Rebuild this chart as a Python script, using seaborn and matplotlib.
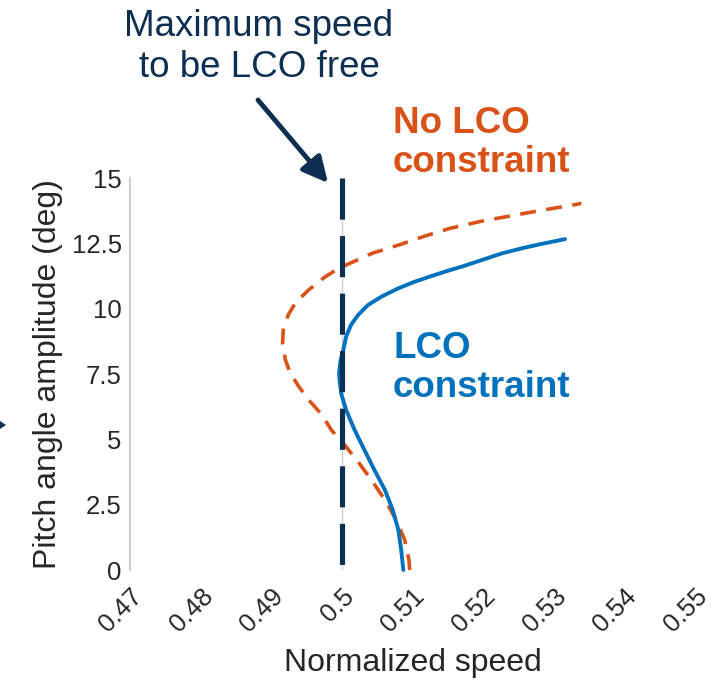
import matplotlib
matplotlib.use("Agg")
import matplotlib.pyplot as plt
from matplotlib.patches import Polygon
import seaborn as sns

# Axis ticks
speed_ticks = [0.47, 0.48, 0.49, 0.50, 0.51, 0.52, 0.53, 0.54, 0.55]
speed_tick_labels = ["0.47", "0.48", "0.49", "0.5", "0.51", "0.52", "0.53", "0.54", "0.55"]
amp_ticks = [0, 2.5, 5, 7.5, 10, 12.5, 15]
amp_tick_labels = ["0", "2.5", "5", "7.5", "10", "12.5", "15"]

# Response with LCO constraint (normalized speed vs pitch amplitude)
lco_amp = [0, 0.77, 1.53, 2.30, 3.06, 3.83, 4.59, 5.36, 6.12, 6.76, 7.20, 7.53,
           8.00, 8.42, 8.93, 9.38, 9.76, 10.14, 10.46, 10.78, 11.03, 11.25, 11.45,
           11.61, 11.86, 12.12, 12.31, 12.48, 12.66]
lco_speed = [0.5087, 0.5084, 0.5080, 0.5072, 0.5061, 0.5046, 0.5032, 0.5018, 0.5006,
             0.4999, 0.4997, 0.4996, 0.4998, 0.5002, 0.5006, 0.5013, 0.5023, 0.5037,
             0.5056, 0.5080, 0.5103, 0.5127, 0.5150, 0.5170, 0.5198, 0.5227, 0.5255,
             0.5283, 0.5316]

# Response without LCO constraint
free_amp = [0, 0.38, 1.15, 1.91, 2.68, 3.44, 4.14, 4.78, 5.36, 5.93, 6.51, 7.02,
            7.53, 8.04, 8.68, 9.18, 9.76, 10.21, 10.72, 11.23, 11.55, 12.12, 12.44,
            12.80, 13.08, 13.35, 13.56, 13.78, 13.97, 14.03]
free_speed = [0.5096, 0.5095, 0.5089, 0.5077, 0.5061, 0.5042, 0.5023, 0.5004, 0.4985,
              0.4972, 0.4953, 0.4939, 0.4927, 0.4920, 0.4916, 0.4917, 0.4924, 0.4934,
              0.4953, 0.4977, 0.4996, 0.5043, 0.5081, 0.5120, 0.5154, 0.5198, 0.5241,
              0.5286, 0.5328, 0.5339]

# Maximum LCO-free speed marker
max_speed = [0.5, 0.5]
max_speed_amp = [15, 0]

BLUE = "#0072BD"
ORANGE = "#D95319"
NAVY = "#0d2f52"
TEXT = "#262626"
AXIS_GRAY = "#c4c4c4"

sns.set_theme(style="white")
plt.rcParams["font.family"] = ["Liberation Sans", "DejaVu Sans"]

W, H = 725, 685
fig = plt.figure(figsize=(W / 100, H / 100), dpi=100)
ax = fig.add_axes([130 / W, 1 - 570 / H, 565 / W, 392 / H])

# thin guide under the dashed marker
ax.axvline(0.5, ymin=0, ymax=1, color="#cfcfcf", lw=1.0, zorder=1)

sns.lineplot(x=lco_speed, y=lco_amp, sort=False, estimator=None, color=BLUE,
             lw=2.8, ax=ax, zorder=3)
ax.lines[-1].set_solid_capstyle("round")
ax.lines[-1].set_solid_joinstyle("round")
ax.lines[-1].set_clip_on(False)

sns.lineplot(x=free_speed, y=free_amp, sort=False, estimator=None, color=ORANGE,
             lw=2.6, ax=ax, zorder=2)
ax.lines[-1].set_dashes((4.4, 2.9))
ax.lines[-1].set_dash_joinstyle("round")
ax.lines[-1].set_clip_on(False)

sns.lineplot(x=max_speed, y=max_speed_amp, sort=False, estimator=None, color=NAVY,
             lw=3.7, ax=ax, zorder=4)
ax.lines[-1].set_dashes((8.0, 3.2))
ax.lines[-1].set_clip_on(False)

ax.set_xlim(0.47, 0.55)
ax.set_ylim(0, 15)
ax.set_xticks(speed_ticks)
ax.set_xticklabels(speed_tick_labels, rotation=45, ha="right",
                   rotation_mode="anchor", fontsize=18.5, color=TEXT)
ax.set_yticks(amp_ticks)
ax.set_yticklabels(amp_tick_labels, fontsize=18.5, color=TEXT)
ax.tick_params(axis="both", direction="in", length=5, width=1, color=AXIS_GRAY)
ax.tick_params(axis="y", pad=6)
ax.tick_params(axis="x", pad=10)

for side in ["top", "right", "bottom"]:
    ax.spines[side].set_visible(False)
ax.spines["left"].set_color(AXIS_GRAY)
ax.spines["left"].set_linewidth(1.2)

ax.set_xlabel("Normalized speed", fontsize=23, color=TEXT, labelpad=8)
ax.set_ylabel("Pitch angle amplitude (deg)", fontsize=23, color=TEXT, labelpad=6)

# Annotations
fig.text(259 / W, 1 - 47 / H, "Maximum speed\nto be LCO free", ha="center",
         va="center", fontsize=26.5, color=NAVY, linespacing=1.2)
ax.annotate("", xy=(328 / W, 1 - 183 / H), xycoords="figure fraction",
            xytext=(258 / W, 1 - 100 / H), textcoords="figure fraction",
            arrowprops=dict(arrowstyle="-|>,head_length=0.7,head_width=0.35",
                            lw=3.5, color=NAVY, shrinkA=0, shrinkB=0,
                            mutation_scale=22))
fig.text(393 / W, 1 - 143 / H, "No LCO\nconstraint", ha="left", va="center",
         fontsize=26.5, fontweight="bold", color=ORANGE, linespacing=1.15)
fig.text(393 / W, 1 - 368 / H, "LCO\nconstraint", ha="left", va="center",
         fontsize=26.5, fontweight="bold", color=BLUE, linespacing=1.15)

# small arrow tip at the left edge
fig.add_artist(Polygon([[0, 1 - 421 / H], [6 / W, 1 - 425 / H], [0, 1 - 429 / H]],
                       closed=True, transform=fig.transFigure, color=NAVY, lw=0))

fig.savefig("out.png", dpi=100)
